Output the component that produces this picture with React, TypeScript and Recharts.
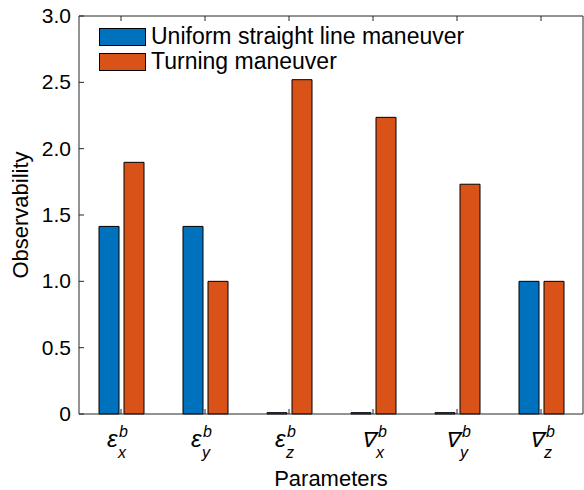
import { BarChart, Bar, XAxis, YAxis, Legend } from "recharts";

// parameter symbols and their subscripts, all with superscript b
const symbols = ["ε", "ε", "ε", "∇", "∇", "∇"];
const subscripts = ["x", "y", "z", "x", "y", "z"];

const straightLine = [1.414, 1.414, 0.01, 0.01, 0.01, 1.0];
const turning = [1.897, 1.0, 2.52, 2.236, 1.732, 1.0];

const yTicks = [0, 0.5, 1.0, 1.5, 2.0, 2.5, 3.0];

const series = [
  { key: "straight", name: "Uniform straight line maneuver", color: "#0072BD" },
  { key: "turning", name: "Turning maneuver", color: "#D95319" },
];

const data = symbols.map((s, i) => ({
  param: `${s}${subscripts[i]}`,
  straight: straightLine[i],
  turning: turning[i],
}));

const AXIS = "#262626";
const FONT = "'Liberation Sans', Arial, sans-serif";

function ParamTick(props: any) {
  const { x, y, payload } = props;
  const i = payload.index;
  const isEps = symbols[i] === "ε";
  // glyph offsets differ between epsilon and nabla
  const left = isEps ? x - 14 : x - 12;
  const supX = isEps ? x - 2 : x + 5;
  const subX = isEps ? x - 3 : x + 3;
  return (
    <g>
      <line x1={x} x2={x} y1={y} y2={y - 5} stroke={AXIS} />
      <text
        x={left}
        y={y + 33}
        fontSize={isEps ? 24 : 21}
        fontStyle="italic"
        fontFamily={FONT}
        fill="#000"
      >
        {symbols[i]}
      </text>
      <text x={supX} y={y + 23} fontSize={16} fontStyle="italic" fontFamily={FONT} fill="#000">
        b
      </text>
      <text x={subX} y={y + 44} fontSize={16} fontStyle="italic" fontFamily={FONT} fill="#000">
        {subscripts[i]}
      </text>
    </g>
  );
}

function TopTick(props: any) {
  const { x, y } = props;
  return <line x1={x} x2={x} y1={y} y2={y + 5} stroke={AXIS} />;
}

function LeftTick(props: any) {
  const { x, y, payload } = props;
  return (
    <g>
      <line x1={x} x2={x + 5} y1={y} y2={y} stroke={AXIS} />
      <text x={x - 8} y={y + 7} textAnchor="end" fontSize={21} fontFamily={FONT} fill="#000">
        {payload.value === 0 ? "0" : payload.value.toFixed(1)}
      </text>
    </g>
  );
}

function RightTick(props: any) {
  const { x, y } = props;
  return <line x1={x} x2={x - 5} y1={y} y2={y} stroke={AXIS} />;
}

function LegendBox() {
  return (
    <div style={{ fontFamily: FONT, fontSize: 23, color: "#000", lineHeight: "25px" }}>
      {series.map((s) => (
        <div key={s.key} style={{ display: "flex", alignItems: "center", height: 25 }}>
          <div
            style={{
              width: 45,
              height: 16,
              background: s.color,
              border: "1px solid #000",
              marginRight: 5,
            }}
          />
          <span style={{ whiteSpace: "nowrap" }}>{s.name}</span>
        </div>
      ))}
    </div>
  );
}

export default function App() {
  return (
    <div style={{ position: "absolute", left: 0, top: 0, width: 584, height: 490, background: "#fff", fontFamily: FONT }}>
      <BarChart
        width={584}
        height={490}
        data={data}
        margin={{ top: 0, right: 0, bottom: 0, left: 0 }}
        barSize={20}
        barGap={5}
      >
        <XAxis
          dataKey="param"
          xAxisId="bottom"
          height={76}
          stroke={AXIS}
          tickLine={false}
          tickSize={0}
          tickMargin={0}
          tick={<ParamTick />}
          interval={0}
          label={{
            content: () => (
              <text x={331} y={486} textAnchor="middle" fontSize={22} fontFamily={FONT} fill="#000">
                Parameters
              </text>
            ),
          }}
        />
        <XAxis
          dataKey="param"
          xAxisId="top"
          orientation="top"
          height={16}
          stroke={AXIS}
          tickLine={false}
          tickSize={0}
          tickMargin={0}
          tick={<TopTick />}
          interval={0}
        />
        <YAxis
          yAxisId="left"
          width={79}
          domain={[0, 3]}
          ticks={yTicks}
          stroke={AXIS}
          tickLine={false}
          tickSize={0}
          tickMargin={0}
          tick={<LeftTick />}
          interval={0}
          label={{
            content: () => (
              <text
                x={28}
                y={215}
                transform="rotate(-90 28 215)"
                textAnchor="middle"
                fontSize={22}
                fontFamily={FONT}
                fill="#000"
              >
                Observability
              </text>
            ),
          }}
        />
        <YAxis
          yAxisId="right"
          orientation="right"
          width={1}
          domain={[0, 3]}
          ticks={yTicks}
          stroke={AXIS}
          tickLine={false}
          tickSize={0}
          tickMargin={0}
          tick={<RightTick />}
          interval={0}
        />
        <Legend
          layout="vertical"
          align="center"
          verticalAlign="middle"
          wrapperStyle={{ position: "absolute", left: 99, top: 24, width: "auto" }}
          content={<LegendBox />}
        />
        {series.map((s) => (
          <Bar
            key={s.key}
            dataKey={s.key}
            name={s.name}
            xAxisId="bottom"
            yAxisId="left"
            fill={s.color}
            stroke="#000"
            strokeWidth={1}
            isAnimationActive={false}
          />
        ))}
      </BarChart>
    </div>
  );
}
